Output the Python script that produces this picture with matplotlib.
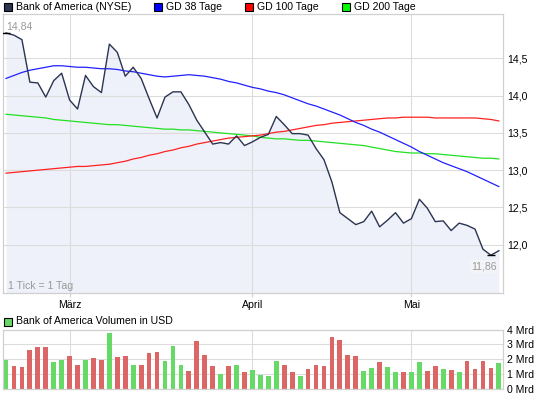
import numpy as np
import matplotlib
matplotlib.use("Agg")
import matplotlib.pyplot as plt
from matplotlib.patches import Rectangle

plt.rcParams['font.family'] = ['Liberation Sans', 'DejaVu Sans']

# ---------------- data ----------------
price = [14.84, 14.81, 14.75, 14.18, 14.17, 13.98, 14.20, 14.30, 13.94, 13.82,
         14.27, 14.12, 14.04, 14.69, 14.58, 14.26, 14.38, 14.23, 13.96, 13.70,
         13.98, 14.05, 14.05, 13.88, 13.67, 13.51, 13.35, 13.37, 13.35, 13.46,
         13.33, 13.38, 13.44, 13.48, 13.72, 13.61, 13.49, 13.49, 13.47, 13.29,
         13.14, 12.84, 12.43, 12.35, 12.27, 12.31, 12.45, 12.24, 12.33, 12.43,
         12.29, 12.35, 12.61, 12.49, 12.31, 12.32, 12.19, 12.29, 12.26, 12.21,
         11.94, 11.86, 11.92]

gd38 = [14.23, 14.27, 14.31, 14.34, 14.36, 14.38, 14.40, 14.40, 14.39, 14.38,
        14.38, 14.37, 14.36, 14.36, 14.35, 14.33, 14.32, 14.30, 14.28, 14.26,
        14.25, 14.26, 14.27, 14.28, 14.27, 14.26, 14.24, 14.22, 14.19, 14.17,
        14.14, 14.11, 14.09, 14.06, 14.04, 14.01, 13.97, 13.93, 13.89, 13.86,
        13.82, 13.78, 13.74, 13.69, 13.64, 13.60, 13.55, 13.51, 13.46, 13.41,
        13.36, 13.31, 13.25, 13.20, 13.15, 13.10, 13.06, 13.02, 12.98, 12.93,
        12.88, 12.83, 12.78]

gd100 = [12.96, 12.97, 12.98, 12.99, 13.00, 13.01, 13.02, 13.03, 13.04, 13.05,
         13.05, 13.06, 13.07, 13.08, 13.10, 13.12, 13.15, 13.17, 13.20, 13.22,
         13.25, 13.27, 13.30, 13.32, 13.35, 13.37, 13.39, 13.41, 13.43, 13.44,
         13.45, 13.46, 13.47, 13.49, 13.51, 13.52, 13.54, 13.56, 13.58, 13.60,
         13.61, 13.63, 13.64, 13.65, 13.66, 13.67, 13.68, 13.69, 13.70, 13.70,
         13.71, 13.71, 13.71, 13.71, 13.70, 13.70, 13.70, 13.70, 13.70, 13.70,
         13.69, 13.68, 13.66]

gd200 = [13.75, 13.74, 13.73, 13.72, 13.71, 13.70, 13.68, 13.67, 13.66, 13.65,
         13.64, 13.63, 13.62, 13.61, 13.61, 13.60, 13.59, 13.58, 13.57, 13.56,
         13.55, 13.55, 13.54, 13.54, 13.53, 13.52, 13.51, 13.50, 13.49, 13.48,
         13.47, 13.46, 13.44, 13.43, 13.42, 13.42, 13.41, 13.40, 13.40, 13.39,
         13.38, 13.37, 13.36, 13.35, 13.34, 13.33, 13.31, 13.29, 13.27, 13.25,
         13.24, 13.23, 13.23, 13.22, 13.22, 13.21, 13.20, 13.19, 13.18, 13.17,
         13.16, 13.16, 13.15]

volume = [1.97, 1.56, 1.50, 2.65, 2.79, 2.79, 1.84, 1.97, 2.24, 1.63,
          1.97, 2.11, 1.97, 3.74, 2.18, 2.24, 1.63, 1.63, 2.45, 2.52,
          1.90, 2.86, 1.63, 1.22, 3.20, 2.31, 1.56, 1.02, 1.56, 1.63,
          1.16, 1.29, 0.95, 0.88, 1.90, 1.63, 1.16, 0.88, 1.36, 1.63,
          1.56, 3.47, 3.27, 2.31, 2.24, 1.22, 1.43, 1.84, 1.50, 1.16,
          1.12, 1.12, 1.84, 1.24, 1.57, 1.37, 1.30, 1.17, 1.91, 1.37,
          1.91, 1.44, 1.73]

month_labels = ["März", "April", "Mai"]
month_pos = [8, 31, 51]
price_ticks = [12.0, 12.5, 13.0, 13.5, 14.0, 14.5]
price_tick_labels = ["12,0", "12,5", "13,0", "13,5", "14,0", "14,5"]
vol_ticks = [0, 1, 2, 3, 4]
vol_tick_labels = ["0 Mrd", "1 Mrd", "2 Mrd", "3 Mrd", "4 Mrd"]

# ---------------- style ----------------
W, H = 545, 398
FS = 7.6
C_PRICE = '#2b3451'
C_FILL = '#eef1f9'
C_GRID = '#dcdcdc'
C_SPINE = '#d0d0d0'
C_BLUE = '#2020ff'
C_RED = '#ff2020'
C_GREEN = '#22e022'
C_VUP = '#66d966'
C_VDN = '#dc6666'

fig = plt.figure(figsize=(W / 100, H / 100), dpi=100)
fig.patch.set_facecolor('white')


def fx(x):
    return x / W


def fy(y):
    return 1 - y / H


x = np.arange(len(price))
p = np.array(price)

# ---------------- main chart ----------------
ax = fig.add_axes([fx(3), fy(293), fx(500), 279 / H])
ax.set_xlim(-0.38, 62.52)
ax.set_ylim(11.353, 15.094)

ax.fill_between(x, p, 11.0, color=C_FILL, lw=0, zorder=1)
ax.set_axisbelow('line')
ax.grid(True, color=C_GRID, lw=0.8)
ax.plot(x, gd200, color=C_GREEN, lw=0.9, zorder=3)
ax.plot(x, gd100, color=C_RED, lw=0.9, zorder=3)
ax.plot(x, gd38, color=C_BLUE, lw=0.9, zorder=3)
ax.plot(x, p, color=C_PRICE, lw=1.0, zorder=4)

imax = int(np.argmax(p))
imin = int(np.argmin(p))
ax.hlines([p[imax]], imax - 0.5, imax + 0.5, color='black', lw=1.0, zorder=5)
ax.hlines([p[imin]], imin - 0.55, imin + 0.55, color='black', lw=1.0, zorder=5)
ax.annotate(f"{p[imax]:.2f}".replace('.', ','), (imax, p[imax]),
            xytext=(0, 4.6), textcoords='offset points',
            ha='left', va='center', fontsize=FS, color='#9a9a9a', zorder=6)
ax.annotate(f"{p[imin]:.2f}".replace('.', ','), (imin, p[imin]),
            xytext=(4.3, -8.4), textcoords='offset points',
            ha='right', va='center', fontsize=FS, color='#9a9a9a', zorder=6,
            bbox=dict(boxstyle='square,pad=0.15', fc='#f3f4f7', ec='none'))

ax.text(0.01, 0.025, "1 Tick = 1 Tag", transform=ax.transAxes, fontsize=FS,
        color='#9a9a9a', ha='left', va='center')

ax.set_yticks(price_ticks)
ax.set_yticklabels(price_tick_labels)
ax.yaxis.tick_right()
ax.tick_params(axis='y', length=0, pad=3.2, labelsize=FS, colors='black')
ax.set_xticks(month_pos)
ax.set_xticklabels(month_labels)
ax.tick_params(axis='x', length=3, color=C_SPINE, pad=2, labelsize=FS,
               labelcolor='black')
for s in ax.spines.values():
    s.set_color(C_SPINE)
    s.set_linewidth(0.9)

# ---------------- volume chart ----------------
axv = fig.add_axes([fx(3), fy(389), fx(500), 59.5 / H])
axv.set_xlim(-0.38, 62.52)
axv.set_ylim(0, 4)
dif = np.diff(p, prepend=p[0])
vcol = [C_VUP if d >= 0 else C_VDN for d in dif]
axv.set_axisbelow(True)
axv.grid(True, color=C_GRID, lw=0.8)
axv.bar(x, volume, width=0.6, color=vcol, lw=0, zorder=2)
axv.set_yticks(vol_ticks)
axv.set_yticklabels(vol_tick_labels)
axv.yaxis.tick_right()
axv.tick_params(axis='y', length=0, pad=3.2, labelsize=FS, colors='black')
axv.set_xticks(month_pos)
axv.set_xticklabels([])
axv.tick_params(axis='x', length=0)
for s in axv.spines.values():
    s.set_color(C_SPINE)
    s.set_linewidth(0.9)

# ---------------- legends ----------------
def legend_item(x0, yc, color, label):
    fig.add_artist(Rectangle((fx(x0), fy(yc + 4)), fx(8), 8 / H,
                             transform=fig.transFigure, facecolor=color,
                             edgecolor='black', lw=0.8))
    fig.text(fx(x0 + 12), fy(yc), label, fontsize=FS, ha='left', va='center',
             color='black')


legend_item(3.5, 7, C_PRICE, "Bank of America (NYSE)")
legend_item(154, 7, '#0000ff', "GD 38 Tage")
legend_item(245, 7, '#ff0000', "GD 100 Tage")
legend_item(342, 7, '#00ff00', "GD 200 Tage")
legend_item(3.5, 321.5, C_VUP, "Bank of America Volumen in USD")

fig.savefig("out.png", dpi=100)
